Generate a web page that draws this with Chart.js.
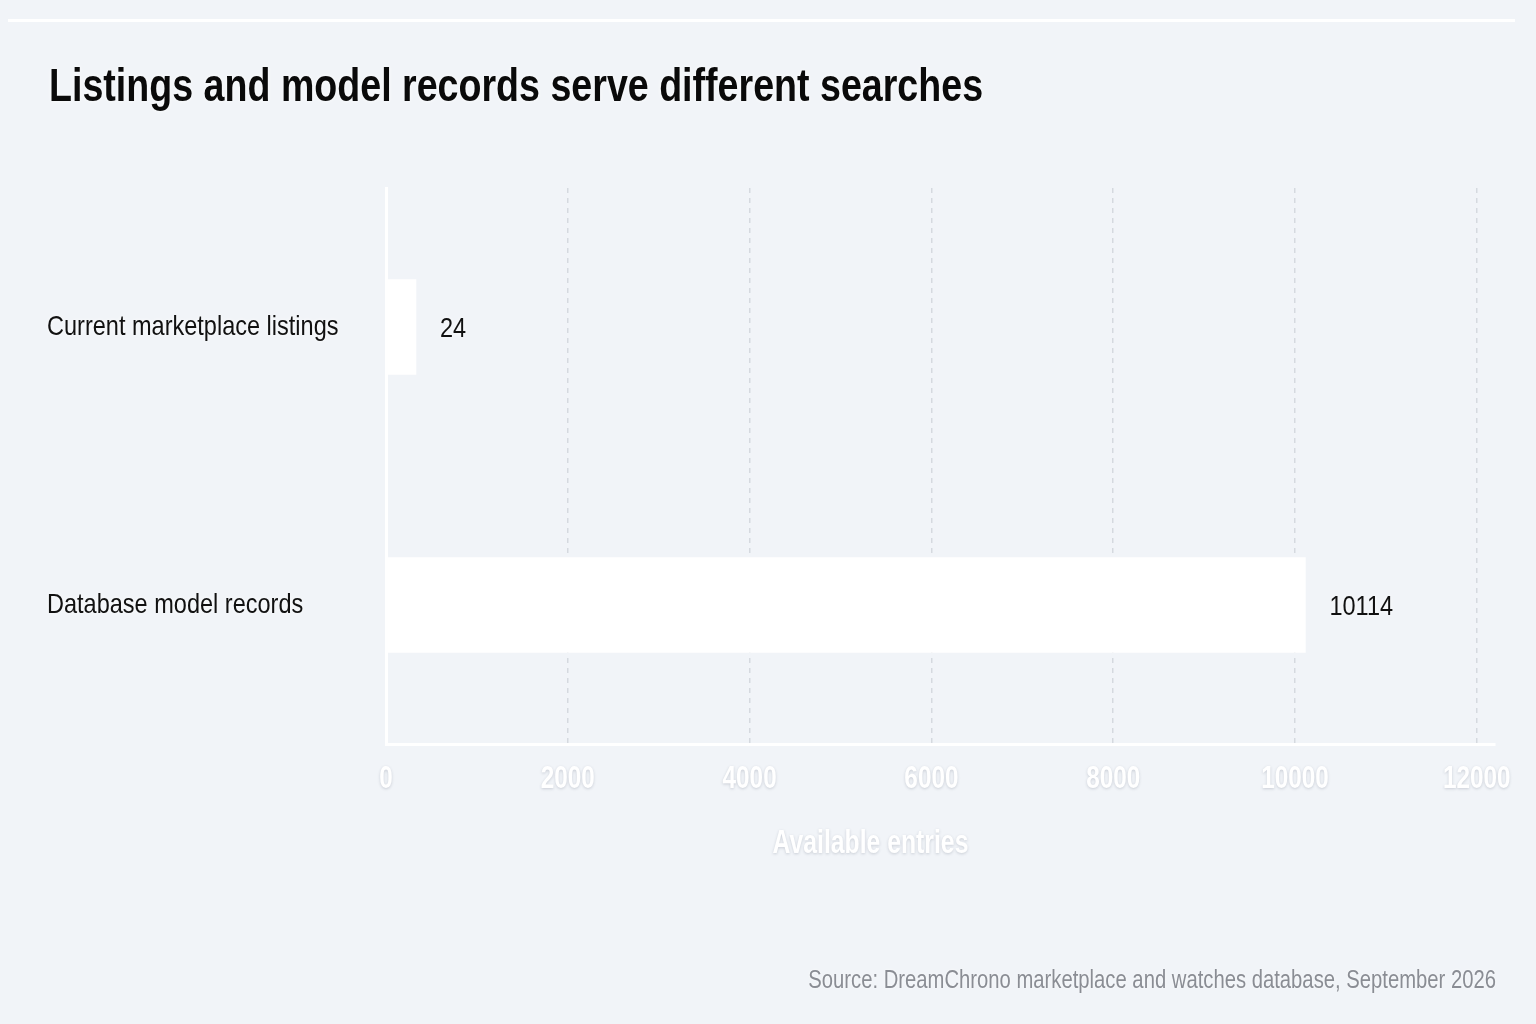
<!DOCTYPE html>
<html>
<head>
<meta charset="utf-8">
<script src="https://cdn.jsdelivr.net/npm/chart.js@4.4.1/dist/chart.umd.min.js"></script>
<style>
	html, body { margin: 0; padding: 0; background: #f1f4f8; }
	canvas { display: block; }
</style>
</head>
<body>
<canvas id="chart" width="1536" height="1024"></canvas>
<script>
// data
const categories = ['Current marketplace listings', 'Database model records'];
const entryCounts = [24, 10114];
const tickValues = [0, 2000, 4000, 6000, 8000, 10000, 12000];
const titleText = 'Listings and model records serve different searches';
const axisTitle = 'Available entries';
const sourceText = 'Source: DreamChrono marketplace and watches database, September 2026';

const FONT = '"Liberation Sans", Arial, sans-serif';

// the reference uses a narrow face, so text is squeezed horizontally
function squeezeText(c, text, x, y, sx, align) {
	c.save();
	c.translate(x, y); c.scale(sx, 1);
	c.textAlign = align;
	c.fillText(text, 0, 0);
	c.restore();
}

const textPlugin = {
	id: 'texts',
	beforeDraw(chart) {
		const c = chart.ctx;
		c.save();
		c.fillStyle = '#ffffff';
		c.fillRect(8, 19, 1507, 3);
		c.restore();
	},
	afterDraw(chart) {
		const c = chart.ctx, a = chart.chartArea, xs = chart.scales.x, ys = chart.scales.y;
		c.save();
		c.textBaseline = 'alphabetic';

		// title
		c.font = 'bold 47px ' + FONT; c.fillStyle = '#0a0a0a';
		c.shadowColor = 'rgba(255,255,255,0.9)'; c.shadowBlur = 4;
		squeezeText(c, titleText, 49, 101, 0.8, 'left');

		// category labels
		c.font = '28px ' + FONT; c.fillStyle = '#111';
		c.textBaseline = 'middle';
		categories.forEach((lab, i) => squeezeText(c, lab, 47, ys.getPixelForTick(i), 0.84, 'left'));

		// value labels
		chart.getDatasetMeta(0).data.forEach((bar, i) =>
			squeezeText(c, String(entryCounts[i]), bar.x + 24, bar.y + 2, 0.84, 'left'));

		// x tick labels and axis title, white with a faint drop shadow
		c.fillStyle = '#ffffff';
		c.shadowColor = 'rgba(60,70,90,0.22)'; c.shadowBlur = 3; c.shadowOffsetY = 1;
		c.font = 'bold 32px ' + FONT;
		tickValues.forEach(v => squeezeText(c, String(v), xs.getPixelForValue(v), a.bottom + 35, 0.76, 'center'));
		c.font = 'bold 33px ' + FONT;
		squeezeText(c, axisTitle, (a.left + a.right) / 2 - 70, a.bottom + 100, 0.75, 'center');

		// source note
		c.shadowColor = 'rgba(255,255,255,0.8)'; c.shadowOffsetY = 0;
		c.font = '25px ' + FONT; c.fillStyle = '#8a8d94';
		c.textBaseline = 'alphabetic';
		squeezeText(c, sourceText, 1496, 988, 0.81, 'right');
		c.restore();
	}
};

new Chart(document.getElementById('chart'), {
	type: 'bar',
	data: { labels: categories, datasets: [{ data: entryCounts, backgroundColor: '#ffffff', borderWidth: 0, barThickness: 95, minBarLength: 30 }] },
	options: {
		indexAxis: 'y', responsive: false, animation: false,
		layout: { padding: { top: 188, right: 41, bottom: 0, left: 46 } },
		plugins: { legend: { display: false }, tooltip: { enabled: false } },
		scales: {
			x: {
				min: 0, max: 12200,
				afterBuildTicks: s => { s.ticks = tickValues.map(v => ({ value: v })); },
				afterFit: s => { s.height = 280; },
				grid: { color: '#d5d9df', lineWidth: 1.5, drawTicks: false },
				border: { display: true, color: '#ffffff', width: 3, dash: [5, 5] },
				ticks: { display: false }
			},
			y: {
				afterFit: s => { s.width = 340; },
				grid: { display: false, drawTicks: false },
				border: { display: true, color: '#ffffff', width: 3 },
				ticks: { display: false }
			}
		}
	},
	plugins: [textPlugin]
});
</script>
</body>
</html>
